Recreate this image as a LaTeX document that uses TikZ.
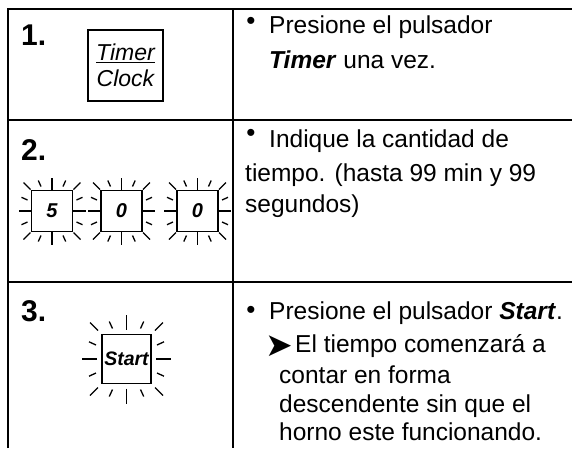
\documentclass[tikz,border=0pt]{standalone}
\usepackage{fontspec}
\setmainfont{Liberation Sans}
\newfontfamily\arrowfont{DejaVu Sans}
\newcommand{\glowrays}[9]{%
  \foreach \a in {0,90,180,270}{%
    \begin{scope}[shift={(#1.center)},rotate=\a]
      \draw[ray] ({#2+#3},0) -- ({#2+#3+#4},0);
      \draw[ray] ({#2+#6},{#5}) -- ({#2+#6+#7},{#5*(1+#7/(#2+#6))});
      \draw[ray] ({#2+#6},{-#5}) -- ({#2+#6+#7},{-#5*(1+#7/(#2+#6))});
      \draw[ray] ({#2+#8},{#2+#8}) -- ({#2+#8+#9},{#2+#8+#9});
    \end{scope}}}
\begin{document}
\begin{tikzpicture}[x=1pt,y=-1pt,
  grid/.style={line width=1.8pt},
  numlbl/.style={anchor=base west,inner sep=0pt,font=\fontsize{30}{30}\selectfont\bfseries},
  txt/.style={anchor=base west,inner sep=0pt,font=\fontsize{24.5}{29}\selectfont},
  bul/.style={anchor=center,inner sep=0pt,font=\fontsize{26}{26}\selectfont},
  key/.style={draw,line width=1.6pt,inner sep=0pt},
  digit/.style={key,minimum size=41pt,font=\fontsize{20}{20}\selectfont\bfseries\itshape},
  ray/.style={line width=1.3pt}]
\useasboundingbox (0,0) rectangle (572,448);
% table lines
\draw[grid] (8,448) -- (8,9) -- (572,9);
\draw[grid] (233,9) -- (233,448);
\draw[grid] (8,120) -- (572,120);
\draw[grid] (8,282) -- (572,282);
% step numbers
\node[numlbl] (n1) at (21,45) {1.};
\node[numlbl] (n2) at (21,160) {2.};
\node[numlbl] (n3) at (21,321) {3.};
% step 1 key
\node[key,minimum width=75pt,minimum height=71pt,align=center,
  font=\fontsize{23}{26}\selectfont\itshape] (tc) at (125.5,65.5) {\underline{Timer}\\Clock};
% step 2 keys
\node[digit] (d1) at (52,211) {5};
\node[digit] (d2) at (121.5,211) {0};
\node[digit] (d3) at (197.5,211) {0};
\glowrays{d1}{20.5}{0}{13}{11}{4}{6}{1}{7}
\glowrays{d2}{20.5}{0}{13}{11}{4}{6}{1}{7}
\glowrays{d3}{20.5}{0}{13}{11}{4}{6}{1}{7}
% step 3 key
\node[key,minimum size=49pt,font=\fontsize{19.5}{19.5}\selectfont\bfseries\itshape] (st) at (126.5,359) {Start};
\glowrays{st}{24.5}{5}{15}{14}{6}{7}{4}{8}
% texts row 1
\node[bul] (b1) at (251,23) {•};
\node[txt] (t11) at (269,33) {Presione el pulsador};
\node[txt] (t12) at (269,68) {\textbf{\textit{Timer}} una vez.};
% texts row 2
\node[bul] (b2) at (251,135) {•};
\node[txt] (t21) at (269,147) {Indique la cantidad de};
\node[txt] (t22) at (245,181) {tiempo. (hasta 99 min y 99};
\node[txt] (t23) at (245,212) {segundos)};
% texts row 3
\node[bul] (b3) at (251,312) {•};
\node[txt] (t31) at (269,319) {Presione el pulsador \textbf{\textit{Start}}.};
\node[anchor=west,inner sep=0pt,font=\fontsize{33}{33}\arrowfont] (ar) at (265,346) {➤};
\node[txt] (t32) at (295,352) {El tiempo comenzará a};
\node[txt] (t33) at (279,383) {contar en forma};
\node[txt] (t34) at (279,412) {descendente sin que el};
\node[txt] (t35) at (279,440) {horno este funcionando.};
\end{tikzpicture}
\end{document}
